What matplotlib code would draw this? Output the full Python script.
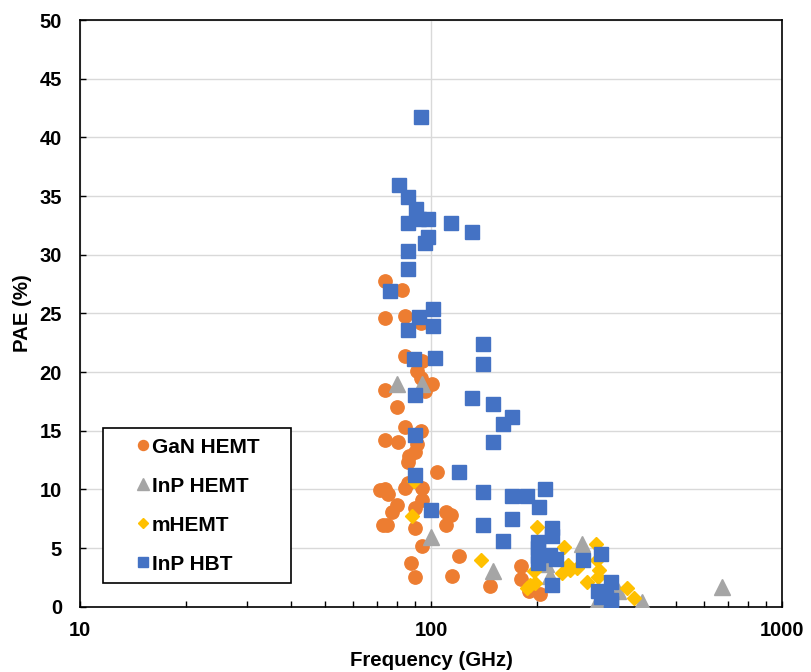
#!/usr/bin/env python3
"""
PAE versus operating frequency for published power amplifiers,
grouped by device technology (log frequency axis).
"""

import matplotlib

matplotlib.use("Agg")
import matplotlib.pyplot as plt
from matplotlib.ticker import FixedLocator, LogLocator, NullFormatter

# --- data: (frequency in GHz, PAE in %) per technology ---------------------
gan_freq = [74, 82.5, 74, 84.3, 93.5, 84.3, 94.5, 91.5, 93.5, 101, 96, 74, 80,
            84.3, 93.5, 74, 80.5, 91.5, 90, 86.5, 86, 104, 86, 71.6, 74, 75.5,
            84.3, 94.5, 94.5, 80, 77.5, 90, 110.5, 114, 73, 75, 90, 110.5,
            94.5, 120, 87.5, 90, 115, 147, 181, 181, 190, 205]
gan_pae = [27.8, 27.0, 24.6, 24.8, 24.2, 21.4, 20.9, 20.1, 19.5, 19.0, 18.4,
           18.5, 17.0, 15.3, 15.0, 14.2, 14.0, 13.9, 13.2, 12.8, 12.3, 11.5,
           10.5, 9.95, 10.0, 9.6, 10.1, 10.1, 9.1, 8.7, 8.1, 8.4, 8.1, 7.8,
           7.0, 7.0, 6.7, 7.0, 5.2, 4.3, 3.7, 2.5, 2.65, 1.76, 3.5, 2.4, 1.3,
           1.1]

inp_hemt_freq = [80, 94.5, 100, 150, 213, 218, 270, 298, 340, 400, 675]
inp_hemt_pae = [19.0, 19.0, 5.9, 3.0, 3.6, 2.6, 5.3, 0.4, 1.3, 0.4, 1.7]

mhemt_freq = [88.5, 89.5, 139, 192, 188, 198, 197, 200, 205, 236, 240, 246,
              249, 260, 278, 295, 298, 302, 300, 362, 380]
mhemt_pae = [7.7, 10.7, 4.0, 1.85, 1.6, 2.0, 3.0, 6.8, 4.5, 2.9, 5.1, 3.55,
             3.1, 3.3, 2.1, 5.3, 4.0, 3.1, 2.5, 1.6, 0.7]

hbt_freq = [93.5, 81, 86, 90.5, 86, 92.5, 98, 114, 131, 98, 96, 86, 86, 76.4,
            101.5, 92.5, 86, 101.5, 141, 89.5, 103, 141, 90, 131, 150, 170,
            160, 90, 150, 120, 90, 141, 170, 188, 211, 203, 100, 170, 141, 160,
            221, 221, 202, 202, 202, 202, 218, 227, 221, 271, 305, 326, 300,
            316, 326, 305, 326]
hbt_pae = [41.7, 35.9, 34.9, 33.9, 32.7, 33.0, 33.0, 32.7, 31.9, 31.5, 31.0,
           30.3, 28.8, 26.9, 25.4, 24.7, 23.6, 23.9, 22.4, 21.1, 21.2, 20.7,
           18.0, 17.8, 17.3, 16.2, 15.6, 14.6, 14.0, 11.5, 11.2, 9.75, 9.46,
           9.46, 10.0, 8.5, 8.2, 7.48, 6.96, 5.6, 6.7, 6.0, 5.5, 5.0, 4.3, 3.7,
           4.4, 4.1, 1.85, 4.0, 4.5, 2.1, 1.3, 1.1, 0.6, 0.85, 0.3]

y_ticks = [0, 5, 10, 15, 20, 25, 30, 35, 40, 45, 50]
x_ticks = [10, 100, 1000]
x_tick_labels = ["10", "100", "1000"]


def main() -> int:
    plt.rcParams["font.family"] = ["Liberation Sans", "DejaVu Sans"]
    plt.rcParams["font.weight"] = "bold"

    fig = plt.figure(figsize=(8.11, 6.72), dpi=100)
    ax = fig.add_axes([0.0986, 0.0972, 0.8656, 0.873])

    # Series order matters: HBT squares sit on top of everything else.
    ax.plot(gan_freq, gan_pae, "o", ms=9.6, color="#ED7D31", mec="#ED7D31",
            label="GaN HEMT", zorder=3)
    ax.plot(inp_hemt_freq, inp_hemt_pae, "^", ms=11, color="#A5A5A5",
            mec="#A5A5A5", label="InP HEMT", zorder=4)
    ax.plot(mhemt_freq, mhemt_pae, "D", ms=6.8, color="#FFC000",
            mec="#FFC000", label="mHEMT", zorder=5)
    ax.plot(hbt_freq, hbt_pae, "s", ms=10, color="#4472C4", mec="#4472C4",
            label="InP HBT", zorder=6)

    ax.set_xscale("log")
    ax.set_xlim(10, 1000)
    ax.set_ylim(0, 50)

    ax.xaxis.set_major_locator(FixedLocator(x_ticks))
    ax.set_xticklabels(x_tick_labels)
    ax.xaxis.set_minor_locator(LogLocator(base=10, subs=range(2, 10)))
    ax.xaxis.set_minor_formatter(NullFormatter())
    ax.set_yticks(y_ticks)

    ax.tick_params(axis="both", which="both", direction="in", width=1.0,
                   labelsize=14.5)
    ax.tick_params(axis="y", pad=13)
    ax.tick_params(axis="x", pad=10)
    ax.tick_params(axis="both", which="major", length=4.5)
    ax.tick_params(axis="x", which="minor", length=4)

    # light grid: every 5 % on y, only the decade line on x
    ax.grid(True, axis="y", color="#D9D9D9", lw=1.0, zorder=0)
    ax.grid(True, axis="x", which="major", color="#D9D9D9", lw=1.0, zorder=0)
    ax.set_axisbelow(True)

    for spine in ax.spines.values():
        spine.set_linewidth(1.2)
        spine.set_color("black")

    ax.set_xlabel("Frequency (GHz)", fontsize=14.7, fontweight="bold",
                  labelpad=8)
    ax.set_ylabel("PAE (%)", fontsize=14.7, fontweight="bold", labelpad=5)

    leg = ax.legend(
        loc="lower left",
        bbox_to_anchor=(0.127, 0.1324, 0.2318, 0.2),
        bbox_transform=fig.transFigure,
        mode="expand",
        borderaxespad=0,
        fontsize=15,
        markerscale=0.75,
        handlelength=2.9,
        handletextpad=-1.0,
        labelspacing=0.96,
        borderpad=0.45,
        fancybox=False,
        frameon=True,
        numpoints=1,
    )
    leg.get_frame().set_edgecolor("black")
    leg.get_frame().set_linewidth(1.2)
    leg.get_frame().set_alpha(1.0)

    fig.savefig("out.png", dpi=100)
    plt.close(fig)
    return 0


if __name__ == "__main__":
    raise SystemExit(main())
